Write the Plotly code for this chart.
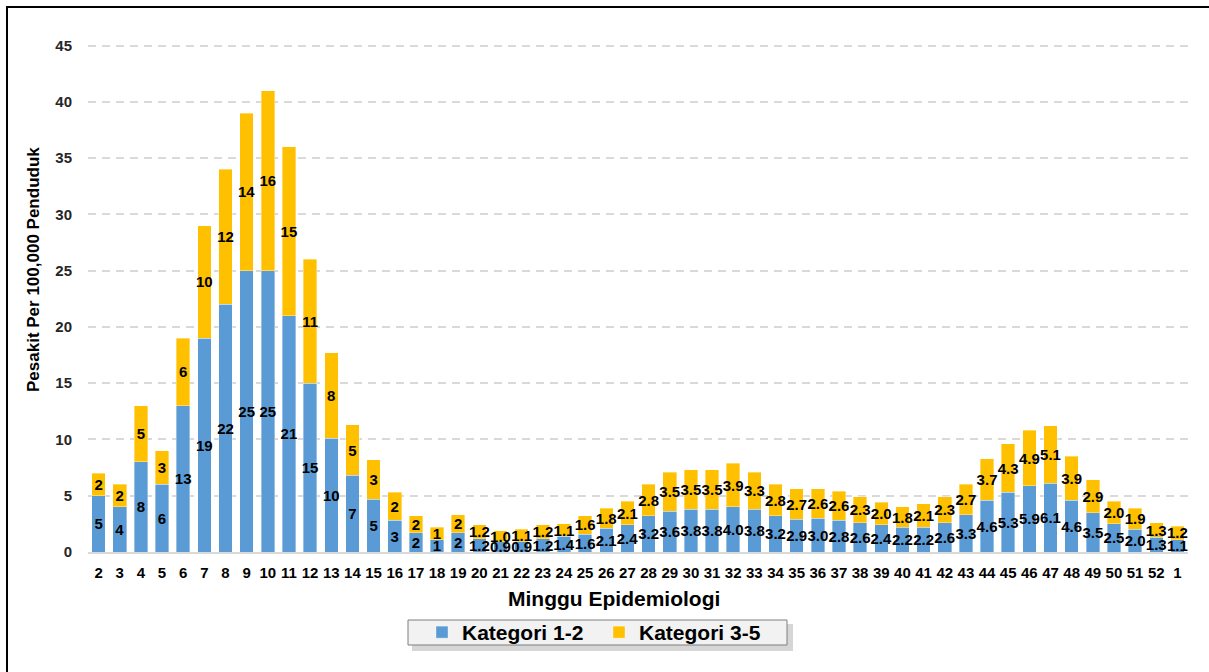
import plotly.graph_objects as go

weeks = [str(w) for w in list(range(2, 53)) + [1]]

kat12 = [5, 4, 8, 6, 13, 19, 22, 25, 25, 21, 15, 10.1, 6.8, 4.7, 2.8, 1.7, 1.1, 1.7,
         1.2, 0.9, 0.9, 1.2, 1.4, 1.6, 2.1, 2.4, 3.2, 3.6, 3.8, 3.8, 4.0, 3.8, 3.2, 2.9,
         3.0, 2.8, 2.6, 2.4, 2.2, 2.2, 2.6, 3.3, 4.6, 5.3, 5.9, 6.1, 4.6, 3.5, 2.5, 2.0,
         1.3, 1.1]
kat35 = [2, 2, 5, 3, 6, 10, 12, 14, 16, 15, 11, 7.6, 4.5, 3.5, 2.5, 1.5, 1.1, 1.6,
         1.2, 1.0, 1.1, 1.2, 1.1, 1.6, 1.8, 2.1, 2.8, 3.5, 3.5, 3.5, 3.9, 3.3, 2.8, 2.7,
         2.6, 2.6, 2.3, 2.0, 1.8, 2.1, 2.3, 2.7, 3.7, 4.3, 4.9, 5.1, 3.9, 2.9, 2.0, 1.9,
         1.3, 1.2]

lab12 = ["5", "4", "8", "6", "13", "19", "22", "25", "25", "21", "15", "10", "7", "5", "3", "2", "1", "2",
         "1.2", "0.9", "0.9", "1.2", "1.4", "1.6", "2.1", "2.4", "3.2", "3.6", "3.8", "3.8", "4.0", "3.8",
         "3.2", "2.9", "3.0", "2.8", "2.6", "2.4", "2.2", "2.2", "2.6", "3.3", "4.6", "5.3", "5.9", "6.1",
         "4.6", "3.5", "2.5", "2.0", "1.3", "1.1"]
lab35 = ["2", "2", "5", "3", "6", "10", "12", "14", "16", "15", "11", "8", "5", "3", "2", "2", "1", "2",
         "1.2", "1.0", "1.1", "1.2", "1.1", "1.6", "1.8", "2.1", "2.8", "3.5", "3.5", "3.5", "3.9", "3.3",
         "2.8", "2.7", "2.6", "2.6", "2.3", "2.0", "1.8", "2.1", "2.3", "2.7", "3.7", "4.3", "4.9", "5.1",
         "3.9", "2.9", "2.0", "1.9", "1.3", "1.2"]

FONT = "Liberation Sans, Arial, sans-serif"
lblfont = dict(family=FONT, size=15, color="black", weight="bold")

W, H = 1209, 672
L, R, T, B = 88, 21, 40, 120
PW, PH = W - L - R, H - T - B


def px(x):
    return (x - L) / PW


def py(y):
    return (H - B - y) / PH


fig = go.Figure()
fig.add_trace(go.Bar(x=weeks, y=kat12, name="Kategori 1-2", marker_color="#5B9BD5",
                     marker_line=dict(color="rgba(255,255,255,0.6)", width=0.6),
                     text=lab12, textposition="inside", insidetextanchor="middle",
                     textangle=0, textfont=lblfont, cliponaxis=False, hoverinfo="skip"))
fig.add_trace(go.Bar(x=weeks, y=kat35, name="Kategori 3-5", marker_color="#FFC000",
                     marker_line=dict(color="rgba(255,255,255,0.6)", width=0.6),
                     text=lab35, textposition="inside", insidetextanchor="middle",
                     textangle=0, textfont=lblfont, cliponaxis=False, hoverinfo="skip"))

fig.update_layout(
    width=W, height=H,
    margin=dict(l=L, r=R, t=T, b=B),
    paper_bgcolor="white", plot_bgcolor="white",
    barmode="stack", bargap=0.36,
    uniformtext=dict(minsize=15, mode="show"),
    font=dict(family=FONT, color="black"),
    showlegend=True,
    legend=dict(orientation="h", x=px(422), xanchor="left", y=py(612), yanchor="top",
                bgcolor="rgba(0,0,0,0)", borderwidth=0, entrywidth=132,
                font=dict(family=FONT, size=21, color="black", weight="bold"),
                traceorder="normal"),
    xaxis=dict(type="category", showgrid=False, showline=True, linecolor="#D9D9D9",
               linewidth=2, ticks="outside", ticklen=6, tickcolor="rgba(0,0,0,0)",
               tickfont=dict(family=FONT, size=15, color="black", weight="bold")),
    yaxis=dict(range=[0, 45.5], dtick=5, tick0=0, showgrid=True, gridcolor="#D9D9D9",
               gridwidth=1.5, griddash="8px,6px", zeroline=False, showline=False,
               ticks="outside", ticklen=12, tickcolor="rgba(0,0,0,0)",
               tickfont=dict(family=FONT, size=15, color="#262626", weight="bold")),
    annotations=[
        dict(text="Minggu Epidemiologi", xref="paper", yref="paper",
             x=px(614), y=py(598), xanchor="center", yanchor="middle",
             showarrow=False, font=dict(family=FONT, size=21, color="black", weight="bold")),
        dict(text="Pesakit Per 100,000 Penduduk", xref="paper", yref="paper",
             x=px(33), y=py(270), xanchor="center", yanchor="middle",
             textangle=-90, showarrow=False,
             font=dict(family=FONT, size=17, color="black", weight="bold")),
    ],
    shapes=[
        dict(type="rect", xref="paper", yref="paper",
             x0=px(7), x1=px(1300), y0=py(760), y1=py(7),
             line=dict(color="black", width=2), fillcolor="rgba(0,0,0,0)", layer="above"),
        dict(type="rect", xref="paper", yref="paper",
             x0=px(412), x1=px(793), y0=py(651), y1=py(624),
             line=dict(width=0), fillcolor="rgba(0,0,0,0.16)", layer="above"),
        dict(type="rect", xref="paper", yref="paper",
             x0=px(408), x1=px(787), y0=py(645), y1=py(620),
             line=dict(color="#7F7F7F", width=1), fillcolor="#F2F2F2", layer="above"),
    ],
)

fig.write_html("out.html", config={"displayModeBar": False},
               post_script="document.body.style.margin='0px';document.body.style.overflow='hidden';")
